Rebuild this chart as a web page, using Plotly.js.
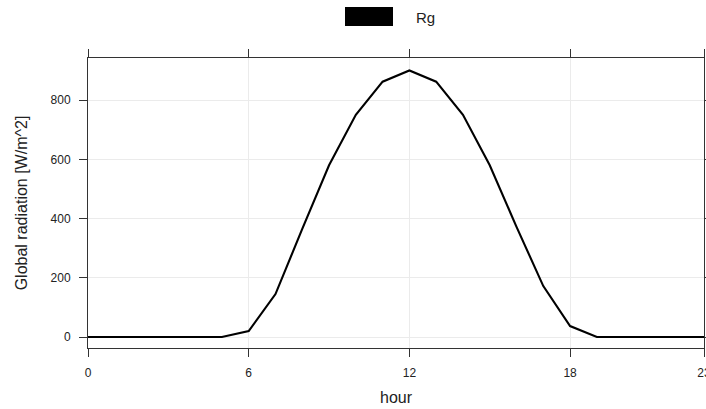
<!DOCTYPE html>
<html>
<head>
<meta charset="utf-8">
<script src="https://cdn.plot.ly/plotly-3.0.1.min.js"></script>
<style>html,body{margin:0;padding:0;background:#fff;}#chart{width:706px;height:409px;}</style>
</head>
<body>
<div id="chart"></div>
<script>
const hours = [0,1,2,3,4,5,6,7,8,9,10,11,12,13,14,15,16,17,18,19,20,21,22,23];
const rg = [0,0,0,0,0,0,20,145,365,580,750,862,900,862,750,580,372,172,37,0,0,0,0,0];
const xTicks = [0,6,12,18,23];
const yTicks = [0,200,400,600,800];
const seriesName = "Rg";

const trace = {
  x: hours, y: rg, type: 'scatter', mode: 'lines', name: seriesName,
  line: {color: '#000', width: 2.1}, showlegend: false, hoverinfo: 'skip'
};

const font = {family: 'Liberation Sans, Arial, sans-serif', color: '#222'};

const layout = {
  width: 706, height: 409,
  margin: {l: 88, r: 2, t: 58, b: 61},
  paper_bgcolor: '#fff', plot_bgcolor: '#fff',
  font: font,
  showlegend: false,
  xaxis: {
    range: [0, 23], tickvals: xTicks, ticktext: xTicks.map(String),
    ticks: 'outside', ticklen: 8, tickcolor: '#333', tickwidth: 1,
    showline: true, linecolor: '#333', linewidth: 1, mirror: 'ticks',
    showgrid: true, gridcolor: '#ebebeb', gridwidth: 1, zeroline: false,
    tickfont: {size: 12, color: '#222'}, ticklabeloverflow: 'allow', ticklabelstandoff: 6,
    title: {text: 'hour', font: {size: 16, color: '#222'}, standoff: 12}
  },
  yaxis: {
    range: [-37, 942], tickvals: yTicks, ticktext: yTicks.map(String),
    ticks: 'outside', ticklen: 8, tickcolor: '#333', tickwidth: 1,
    showline: true, linecolor: '#333', linewidth: 1, mirror: 'ticks',
    showgrid: true, gridcolor: '#ebebeb', gridwidth: 1, zeroline: false,
    tickfont: {size: 12, color: '#222'}, ticklabelstandoff: 6,
    title: {text: 'Global radiation [W/m^2]', font: {size: 16, color: '#222'}, standoff: 18}
  },
  shapes: [{
    type: 'rect', xref: 'paper', yref: 'paper',
    x0: (345-88)/616, x1: (393-88)/616,
    y0: 1 + (58-26)/290, y1: 1 + (58-7)/290,
    fillcolor: '#000', line: {width: 0}
  }],
  annotations: [{
    text: seriesName, xref: 'paper', yref: 'paper',
    x: (414-88)/616, y: 1 + (58-17)/290, xanchor: 'left', yanchor: 'middle',
    showarrow: false, font: {size: 15, color: '#222'}
  }]
};

Plotly.newPlot('chart', [trace], layout, {staticPlot: true, displayModeBar: false});
</script>
</body>
</html>
